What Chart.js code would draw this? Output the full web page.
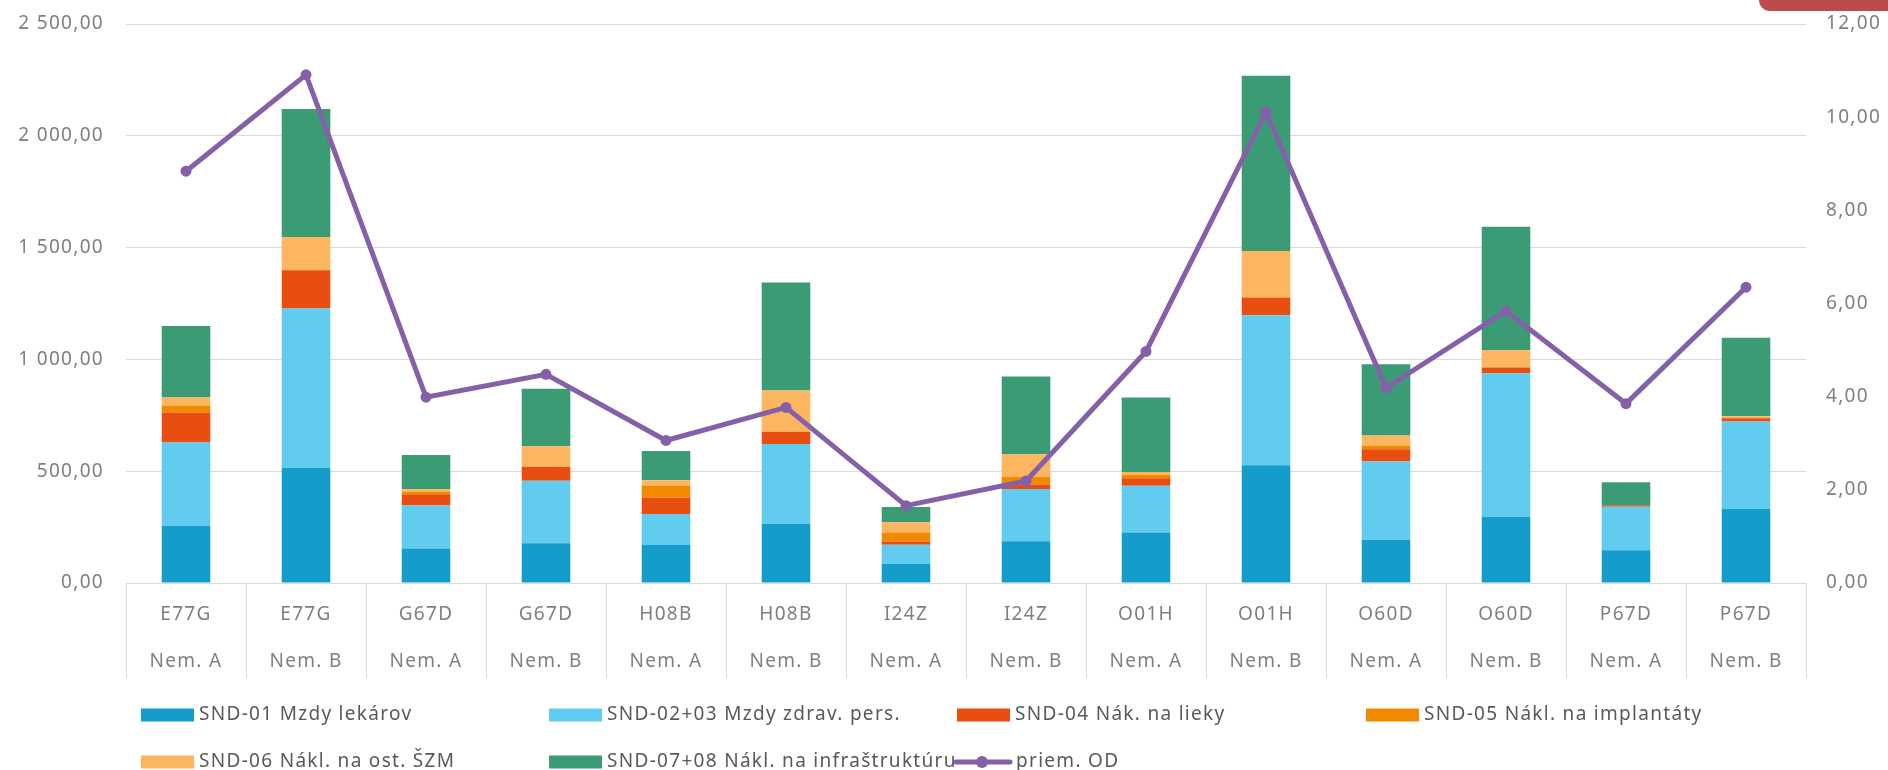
<!DOCTYPE html>
<html>
<head>
<meta charset="utf-8">
<script src="https://cdn.jsdelivr.net/npm/chart.js@4.4.1/dist/chart.umd.min.js"></script>
<style>
  html, body { margin: 0; padding: 0; background: #ffffff; overflow: hidden; }
  #wrap { position: relative; width: 1888px; height: 770px; }
  #tab { position: absolute; left: 1759px; top: -20px; width: 150px; height: 31px; background: #BE4B4B; border-radius: 11px; }
</style>
</head>
<body>
<div id="wrap">
  <canvas id="c" width="1888" height="770"></canvas>
  <div id="tab"></div>
</div>
<script>
// ---- data ----
const drgCodes  = ['E77G','E77G','G67D','G67D','H08B','H08B','I24Z','I24Z','O01H','O01H','O60D','O60D','P67D','P67D'];
const hospitals = ['Nem. A','Nem. B','Nem. A','Nem. B','Nem. A','Nem. B','Nem. A','Nem. B','Nem. A','Nem. B','Nem. A','Nem. B','Nem. A','Nem. B'];

const snd01   = [255, 514, 154, 178, 170, 264,  85, 187, 226, 527, 193, 296, 147, 332];
const snd0203 = [373, 714, 193, 279, 139, 358,  86, 233, 209, 670, 350, 642, 194, 390];
const snd04   = [134, 171,  50,  63,  72,  54,  15,  21,  33,  80,  55,  26,   7,  15];
const snd05   = [ 32,   0,  12,   0,  55,   0,  40,  33,  15,   0,  17,   0,   0,   3];
const snd06   = [ 36, 148,  10,  92,  24, 185,  46, 102,  13, 208,  45,  77,   0,   6];
const snd0708 = [319, 573, 154, 257, 130, 483,  68, 348, 334, 784, 318, 552, 103, 351];
const priemOD = [8.84, 10.91, 3.99, 4.48, 3.06, 3.77, 1.66, 2.19, 4.97, 10.11, 4.19, 5.84, 3.85, 6.35];

const leftTicks  = [0, 500, 1000, 1500, 2000, 2500];
const rightTicks = [0, 2, 4, 6, 8, 10, 12];

const seriesNames = [
  'SND-01 Mzdy lekárov',
  'SND-02+03 Mzdy zdrav. pers.',
  'SND-04 Nák. na lieky',
  'SND-05 Nákl. na implantáty',
  'SND-06 Nákl. na ost. ŠZM',
  'SND-07+08 Nákl. na infraštruktúru',
  'priem. OD'
];

// ---- styling ----
const FONT = '"Noto Sans", "Open Sans", sans-serif';
const colors = ['#149CCB', '#61CBF0', '#E84E0F', '#F28A00', '#FDB660', '#3A9B75'];
const lineColor = '#8560A8';
const gridColor = '#d9d9d9';
const tickColor = '#7f7f7f';
const SPACING = '1.3px';

function fmt(v) {
  const s = Math.round(v).toString().replace(/\B(?=(\d{3})+(?!\d))/g, ' ');
  return s + ',00';
}

const labels = drgCodes.map((c, i) => [c, hospitals[i]]);
const barSeries = [snd01, snd0203, snd04, snd05, snd06, snd0708];

const datasets = barSeries.map((arr, i) => ({
  type: 'bar',
  label: seriesNames[i],
  data: arr,
  backgroundColor: colors[i],
  borderWidth: 0,
  stack: 's',
  yAxisID: 'y',
  order: 1,
  categoryPercentage: 1.0,
  barPercentage: 0.405
}));
datasets.push({
  type: 'line',
  label: seriesNames[6],
  data: priemOD,
  borderColor: lineColor,
  backgroundColor: lineColor,
  borderWidth: 5,
  pointRadius: 5.5,
  pointBackgroundColor: lineColor,
  pointBorderColor: lineColor,
  pointBorderWidth: 0,
  tension: 0,
  yAxisID: 'y1',
  order: 0
});

const spacingPlugin = {
  id: 'letterSpacing',
  beforeLayout(chart) { chart.ctx.letterSpacing = SPACING; },
  beforeDraw(chart) { chart.ctx.letterSpacing = SPACING; }
};

// legend drawn in Excel-like grid slots
const legendPlugin = {
  id: 'excelLegend',
  afterDraw(chart, args, opts) {
    const ctx = chart.ctx;
    ctx.save();
    ctx.letterSpacing = SPACING;
    ctx.font = '19px ' + FONT;
    ctx.textBaseline = 'middle';
    ctx.textAlign = 'left';
    chart.data.datasets.forEach((ds, i) => {
      const [sx, sy] = opts.slots[i];
      let tx;
      if (ds.type === 'line') {
        ctx.strokeStyle = ds.borderColor;
        ctx.lineWidth = 5;
        ctx.lineCap = 'round';
        ctx.beginPath();
        ctx.moveTo(sx + 3, sy);
        ctx.lineTo(sx + 57, sy);
        ctx.stroke();
        ctx.fillStyle = ds.borderColor;
        ctx.beginPath();
        ctx.arc(sx + 29, sy, 6, 0, Math.PI * 2);
        ctx.fill();
        tx = sx + 63;
      } else {
        ctx.fillStyle = ds.backgroundColor;
        ctx.fillRect(sx, sy - 6.5, 53, 13);
        tx = sx + 58;
      }
      ctx.fillStyle = opts.color;
      ctx.fillText(ds.label, tx, sy);
    });
    ctx.restore();
  }
};

function fixY(width) {
  return function (scale) {
    scale.width = width;
    scale.paddingTop = 0;
    scale.paddingBottom = 0;
  };
}

new Chart(document.getElementById('c'), {
  data: { labels: labels, datasets: datasets },
  plugins: [spacingPlugin, legendPlugin],
  options: {
    responsive: false,
    animation: false,
    events: [],
    layout: { padding: { top: 24, left: 0, right: 0, bottom: 0 } },
    plugins: {
      legend: { display: false },
      tooltip: { enabled: false },
      excelLegend: {
        color: '#595959',
        slots: [[141, 715], [549, 715], [957, 715], [1366, 715], [141, 762], [549, 762], [953, 762]]
      }
    },
    scales: {
      x: {
        type: 'category',
        offset: true,
        grid: {
          offset: true,
          drawOnChartArea: false,
          drawTicks: true,
          tickLength: 95,
          color: gridColor,
          lineWidth: 1
        },
        border: { display: true, color: gridColor, width: 1 },
        ticks: {
          autoSkip: false,
          maxRotation: 0,
          minRotation: 0,
          padding: -86.5,
          color: tickColor,
          font: { family: FONT, size: 19, lineHeight: '47px' }
        },
        afterFit(scale) { scale.height = 187; scale.paddingLeft = 0; scale.paddingRight = 0; }
      },
      y: {
        type: 'linear',
        position: 'left',
        stacked: true,
        min: 0,
        max: 2500,
        afterBuildTicks(scale) { scale.ticks = leftTicks.map(v => ({ value: v })); },
        grid: { color: gridColor, lineWidth: 1, drawTicks: false },
        border: { display: false },
        ticks: {
          padding: 22,
          color: tickColor,
          font: { family: FONT, size: 19 },
          callback: v => fmt(v)
        },
        afterFit: fixY(126)
      },
      y1: {
        type: 'linear',
        position: 'right',
        min: 0,
        max: 12,
        afterBuildTicks(scale) { scale.ticks = rightTicks.map(v => ({ value: v })); },
        grid: { drawOnChartArea: false, drawTicks: false },
        border: { display: false },
        ticks: {
          padding: 20,
          color: tickColor,
          font: { family: FONT, size: 19 },
          callback: v => fmt(v)
        },
        afterFit: fixY(82)
      }
    }
  }
});
</script>
</body>
</html>
